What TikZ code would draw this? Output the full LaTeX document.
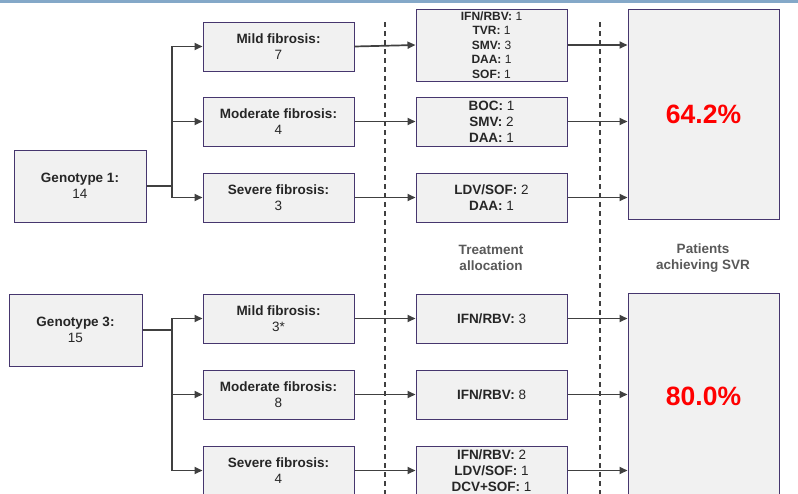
\documentclass[tikz,border=0pt]{standalone}
\usepackage{fontspec}
\setmainfont{Liberation Sans}
\usepackage{tikz}
\usetikzlibrary{arrows.meta}
\definecolor{boxfill}{HTML}{F1F1F1}
\definecolor{boxline}{HTML}{46366E}
\definecolor{linkgray}{HTML}{404040}
\definecolor{topblue}{HTML}{84A8C8}
\definecolor{labelgray}{HTML}{595959}

\begin{document}
\begin{tikzpicture}[x=1pt, y=-1pt,
			box/.style = {draw=boxline, fill=boxfill, line width=1pt, align=center, inner sep=1pt,
					minimum width=151pt, minimum height=49pt, text=black!85,
					font=\fontsize{13.5}{16}\selectfont},
			genobox/.style = {box, minimum width=132pt, minimum height=72pt},
			resultbox/.style = {box, minimum height=210pt, text=red,
					font=\fontsize{26.5}{30}\selectfont\bfseries},
			link/.style = {draw=linkgray, line width=1.7pt, -{Triangle[length=8pt,width=7pt]}},
			divider/.style = {draw=linkgray, line width=1.3pt, dash pattern=on 5pt off 4pt},
			caption/.style = {align=center, text=labelgray, font=\fontsize{13.5}{16.5}\selectfont\bfseries}
		]
		\useasboundingbox (0,0) rectangle (798,493);
		\clip (0,0) rectangle (798,493);
		\fill [white] (0,0) rectangle (798,493);
		\fill [topblue] (0,0) rectangle (798,3);
		\draw [divider] (385,22) -- (385,500);
		\draw [divider] (600,22) -- (600,500);
		\node [caption] (alloc) at (491,258) {Treatment\\allocation};
		\node [caption] (svr) at (703,258) {Patients\\achieving SVR};

		\node [genobox] (1g) at (80,186) {\textbf{Genotype 1:}\\14};
		\coordinate (1j) at (172,186);
		\node [box] (1f1) at (278.5,46.5) {\textbf{Mild fibrosis:}\\7};
		\node [box] (1f2) at (278.5,121.5) {\textbf{Moderate fibrosis:}\\4};
		\node [box] (1f3) at (278.5,197.5) {\textbf{Severe fibrosis:}\\3};
		\node [box, minimum height=72pt, font=\fontsize{12}{14.5}\selectfont] (1t1) at (491.5,45)
			{\textbf{IFN/RBV:} 1\\\textbf{TVR:} 1\\\textbf{SMV:} 3\\\textbf{DAA:} 1\\\textbf{SOF:} 1};
		\node [box] (1t2) at (491.5,121.5) {\textbf{BOC:} 1\\\textbf{SMV:} 2\\\textbf{DAA:} 1};
		\node [box] (1t3) at (491.5,197.5) {\textbf{LDV/SOF:} 2\\\textbf{DAA:} 1};
		\node [resultbox] (1r) at (703.5,114) {64.2\%};

		\node [genobox, minimum width=133pt] (3g) at (75.5,330) {\textbf{Genotype 3:}\\15};
		\coordinate (3j) at (172,330);
		\node [box] (3f1) at (278.5,318.5) {\textbf{Mild fibrosis:}\\3*};
		\node [box] (3f2) at (278.5,394.5) {\textbf{Moderate fibrosis:}\\8};
		\node [box] (3f3) at (278.5,470.5) {\textbf{Severe fibrosis:}\\4};
		\node [box] (3t1) at (491.5,318.5) {\textbf{IFN/RBV:} 3};
		\node [box] (3t2) at (491.5,394.5) {\textbf{IFN/RBV:} 8};
		\node [box] (3t3) at (491.5,470.5) {\textbf{IFN/RBV:} 2\\\textbf{LDV/SOF:} 1\\\textbf{DCV+SOF:} 1};
		\node [resultbox, minimum height=206pt] (3r) at (703.5,396) {80.0\%};

		\draw [link] (1g.east) -- (1j) |- (1f1.west);
		\draw [link] (1g.east) -- (1j) |- (1f2.west);
		\draw [link] (1g.east) -- (1j) |- (1f3.west);
		\draw [link] (1f1.east) -- (1t1.west);
		\draw [link] (1f2.east) -- (1t2.west);
		\draw [link] (1f3.east) -- (1t3.west);
		\draw [link] (1t1.east) -- (1t1.east -| 1r.west);
		\draw [link] (1t2.east) -- (1t2.east -| 1r.west);
		\draw [link] (1t3.east) -- (1t3.east -| 1r.west);

		\draw [link] (3g.east) -- (3j) |- (3f1.west);
		\draw [link] (3g.east) -- (3j) |- (3f2.west);
		\draw [link] (3g.east) -- (3j) |- (3f3.west);
		\draw [link] (3f1.east) -- (3t1.west);
		\draw [link] (3f2.east) -- (3t2.west);
		\draw [link] (3f3.east) -- (3t3.west);
		\draw [link] (3t1.east) -- (3t1.east -| 3r.west);
		\draw [link] (3t2.east) -- (3t2.east -| 3r.west);
		\draw [link] (3t3.east) -- (3t3.east -| 3r.west);
	\end{tikzpicture}
\end{document}
